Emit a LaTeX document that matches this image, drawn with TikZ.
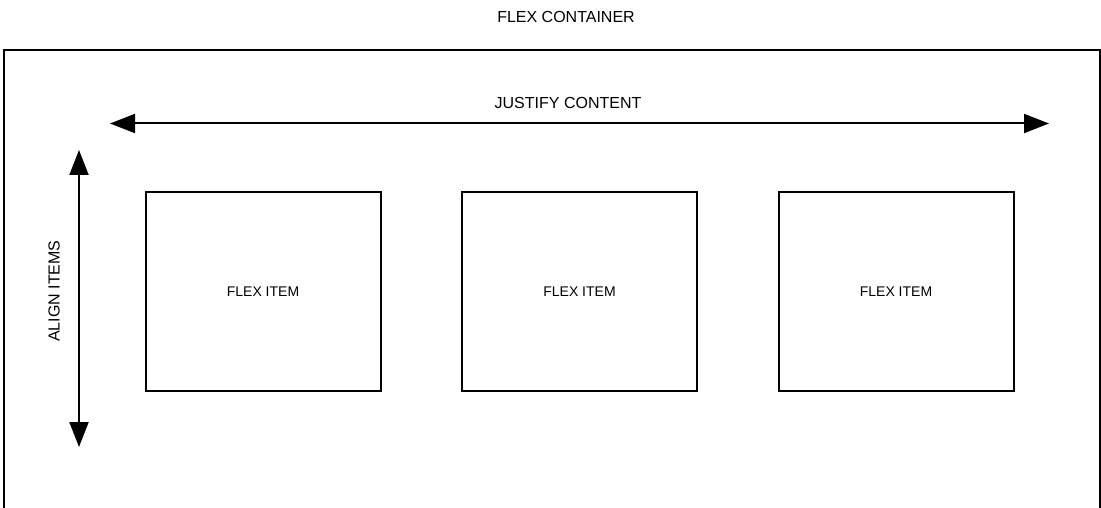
\documentclass[tikz,border=0pt]{standalone}
\usepackage{fontspec}
\setmainfont{Liberation Sans}
\usetikzlibrary{positioning,arrows.meta}
\tikzset{item/.style={draw,line width=2pt,minimum width=235pt,minimum height=199pt,inner sep=0pt,outer sep=0pt,font=\fontsize{14}{16}\selectfont},
  lbl/.style={inner sep=0pt,font=\fontsize{16}{18}\selectfont},
  axis/.style={line width=2pt,{Triangle[length=25pt,width=19pt]}-{Triangle[length=25pt,width=19pt]}}}

\begin{document}
\begin{tikzpicture}[x=1pt,y=-1pt]
\useasboundingbox (0,0) rectangle (1101,508);
\clip (0,0) rectangle (1101,508);
% container, open at the bottom
\draw[line width=2pt] (4,530) rectangle (1099.5,50.5);
\node[lbl] (title) at (566,17) {FLEX CONTAINER};
% main axis
\coordinate (jl) at (110,123.5);
\coordinate (jr) at (1049,123.5);
\draw[axis] (jl) -- (jr);
\node[lbl] (justify) at (568,103) {JUSTIFY CONTENT};
% cross axis
\coordinate (at) at (79,150);
\coordinate (ab) at (79,447);
\draw[axis] (at) -- (ab);
\node[lbl,rotate=90] (align) at (54,291) {ALIGN ITEMS};
% items
\node[item] (item1) at (263,291.5) {FLEX ITEM};
\node[item,right=81.5pt of item1] (item2) {FLEX ITEM};
\node[item,right=81.5pt of item2] (item3) {FLEX ITEM};
\end{tikzpicture}
\end{document}
